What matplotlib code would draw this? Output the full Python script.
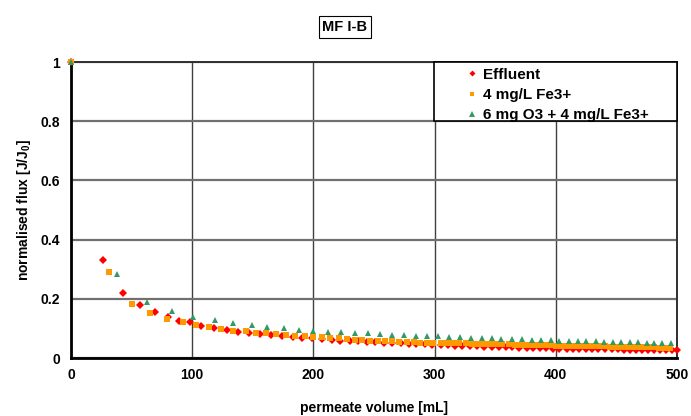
import matplotlib.pyplot as plt
from matplotlib.patches import Rectangle

# ====== DATA ======
effluent_x = [0, 26, 43, 57, 69, 80, 89, 98, 107, 118, 129, 138, 147, 156, 165, 174,
              183, 191, 199, 207, 215, 222, 230, 237, 244, 251, 258, 265, 272, 279,
              285, 292, 298, 305, 311, 317, 323, 329, 335, 341, 347, 353, 359, 364,
              370, 376, 381, 387, 392, 398, 403, 409, 414, 419, 425, 430, 435, 441,
              446, 451, 456, 461, 466, 471, 476, 481, 486, 491, 496, 500]
effluent_y = [1.0, 0.331, 0.221, 0.180, 0.154, 0.140, 0.126, 0.120, 0.109, 0.102,
              0.095, 0.089, 0.085, 0.081, 0.077, 0.073, 0.072, 0.069, 0.066, 0.063,
              0.061, 0.059, 0.058, 0.056, 0.055, 0.054, 0.052, 0.051, 0.049, 0.048,
              0.047, 0.046, 0.045, 0.044, 0.043, 0.042, 0.041, 0.040, 0.039, 0.038,
              0.038, 0.037, 0.036, 0.036, 0.035, 0.034, 0.034, 0.033, 0.033, 0.032,
              0.032, 0.031, 0.031, 0.031, 0.030, 0.030, 0.030, 0.029, 0.029, 0.029,
              0.028, 0.028, 0.028, 0.027, 0.027, 0.027, 0.026, 0.026, 0.026, 0.026]

fe_x = [0, 31, 50, 65, 79, 92, 103, 114, 124, 134, 144, 153, 161, 169, 177, 185,
        193, 200, 207, 214, 221, 228, 234, 240, 247, 253, 259, 265, 271, 277, 283,
        288, 294, 299, 305, 310, 315, 320, 326, 331, 336, 341, 346, 351, 356, 361,
        366, 371, 376, 381, 385, 390, 395, 400, 404, 409, 414, 418, 423, 427, 432,
        436, 441, 445, 450, 454, 459, 463, 468, 472, 476, 481, 485, 489, 494]
fe_y = [1.0, 0.290, 0.184, 0.151, 0.133, 0.122, 0.110, 0.106, 0.099, 0.092, 0.090,
        0.085, 0.083, 0.082, 0.079, 0.075, 0.073, 0.072, 0.070, 0.068, 0.066, 0.064,
        0.062, 0.061, 0.059, 0.058, 0.057, 0.056, 0.055, 0.054, 0.053, 0.052, 0.052,
        0.051, 0.051, 0.050, 0.050, 0.049, 0.049, 0.048, 0.048, 0.048, 0.047, 0.047,
        0.046, 0.046, 0.045, 0.045, 0.044, 0.044, 0.043, 0.043, 0.043, 0.042, 0.042,
        0.041, 0.041, 0.041, 0.040, 0.040, 0.039, 0.039, 0.039, 0.038, 0.038, 0.038,
        0.037, 0.037, 0.037, 0.036, 0.036, 0.036, 0.035, 0.035, 0.035]

o3_x = [0, 38, 63, 83, 101, 119, 134, 149, 162, 176, 188, 200, 212, 223, 234, 245,
        255, 265, 275, 285, 294, 303, 312, 321, 330, 339, 347, 355, 364, 372, 380,
        388, 396, 403, 411, 418, 425, 433, 440, 447, 454, 461, 468, 475, 481, 488, 495]
o3_y = [1.0, 0.284, 0.189, 0.159, 0.140, 0.128, 0.119, 0.112, 0.106, 0.100, 0.096,
        0.092, 0.089, 0.087, 0.085, 0.083, 0.081, 0.079, 0.077, 0.076, 0.074, 0.073,
        0.071, 0.070, 0.068, 0.067, 0.066, 0.065, 0.064, 0.063, 0.062, 0.061, 0.060,
        0.059, 0.058, 0.058, 0.057, 0.056, 0.055, 0.055, 0.054, 0.053, 0.053, 0.052,
        0.052, 0.051, 0.051]

labels = ["Effluent", "4 mg/L Fe3+", "6 mg O3 + 4 mg/L Fe3+"]
x_ticks = [0, 100, 200, 300, 400, 500]
y_ticks = [0, 0.2, 0.4, 0.6, 0.8, 1.0]
y_tick_labels = ["0", "0.2", "0.4", "0.6", "0.8", "1"]

# ====== PLOT ======
plt.rcParams['font.family'] = ['Liberation Sans', 'DejaVu Sans']
plt.rcParams['font.weight'] = 'bold'
plt.rcParams['mathtext.fontset'] = 'custom'
plt.rcParams['mathtext.rm'] = 'Liberation Sans'
plt.rcParams['mathtext.bf'] = 'Liberation Sans:bold'

fig = plt.figure(figsize=(6.91, 4.16), dpi=100)
ax = fig.add_axes([71/691, 1 - 358/416, 606/691, 296/416])

ax.plot(effluent_x, effluent_y, 'D', color='#FF0000', markersize=3.8, markeredgewidth=0,
        label=labels[0], clip_on=False, zorder=3)
ax.plot(fe_x, fe_y, 's', color='#FF9900', markersize=4.3, markeredgewidth=0,
        label=labels[1], clip_on=False, zorder=4)
ax.plot(o3_x, o3_y, '^', color='#339966', markersize=4.8, markeredgewidth=0,
        label=labels[2], clip_on=False, zorder=5)

ax.set_xlim(0, 500)
ax.set_ylim(0, 1)
ax.set_xticks(x_ticks)
ax.set_yticks(y_ticks)
ax.set_yticklabels(y_tick_labels)
ax.tick_params(length=0, labelsize=10)
ax.tick_params(axis='x', pad=7)
ax.tick_params(axis='y', pad=8)

ax.grid(axis='y', color='#707070', linewidth=1.6, zorder=1)
ax.grid(axis='x', color='#404040', linewidth=1.0, zorder=1)
ax.set_axisbelow(True)

for side in ['top', 'right']:
    ax.spines[side].set_color('#303030')
    ax.spines[side].set_linewidth(1.4)
for side in ['left', 'bottom']:
    ax.spines[side].set_color('black')
    ax.spines[side].set_linewidth(2)

ax.set_xlabel("permeate volume [mL]", fontsize=10, fontweight='bold', labelpad=14)
ax.set_ylabel(r"normalised flux [J/J$_\mathbf{0}$]", fontsize=10, fontweight='bold', labelpad=5)

# legend box
ax.add_patch(Rectangle((0.599, 0.80), 0.401, 0.20, transform=ax.transAxes,
                       facecolor='white', edgecolor='black', linewidth=1.2,
                       zorder=6, clip_on=False))
leg = ax.legend(loc='upper left', bbox_to_anchor=(0.654, 0.981), frameon=False,
                fontsize=11, handlelength=0.6, handletextpad=0.45, labelspacing=0.42,
                markerscale=0.8, borderpad=0, borderaxespad=0)
leg.set_zorder(7)

fig.text(345/691, 1 - 27/416, "MF I-B", fontsize=10.5, fontweight='bold', ha='center', va='center',
         bbox=dict(boxstyle='square,pad=0.25', facecolor='white', edgecolor='black', linewidth=0.8))

plt.savefig("out.png", dpi=100)
